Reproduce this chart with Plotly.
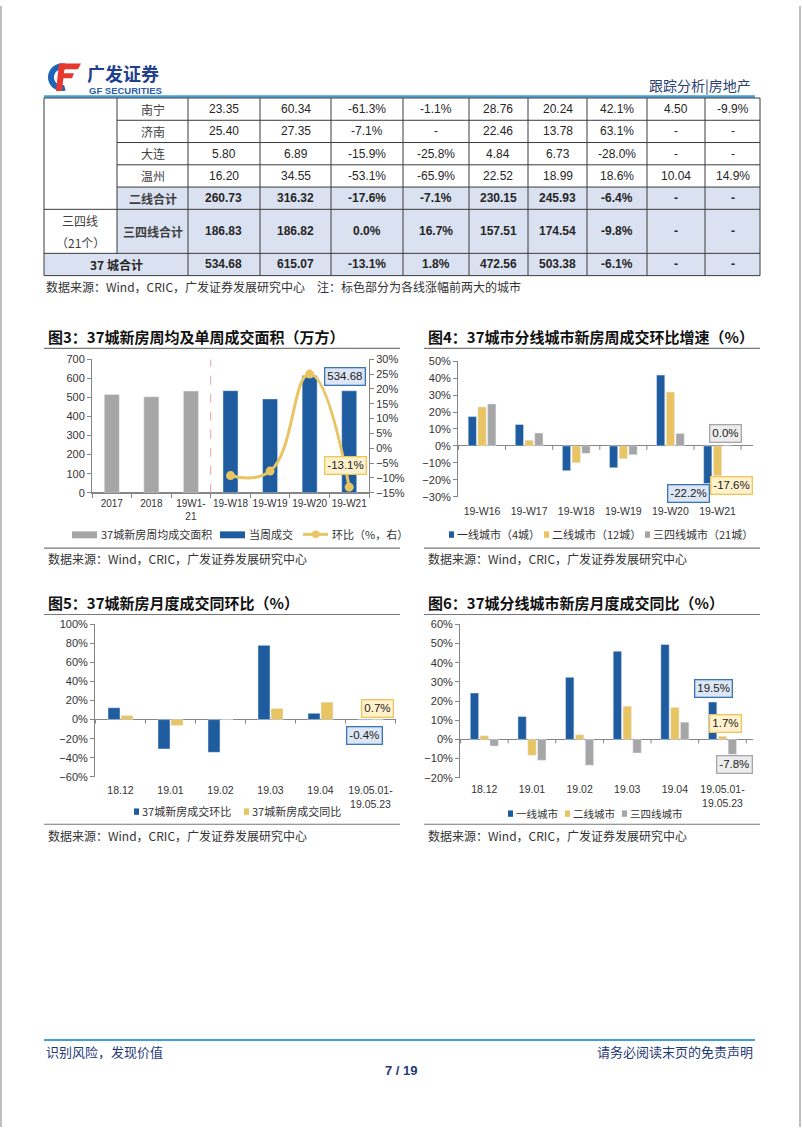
import numpy as np
import plotly.graph_objects as go

W, H = 802, 1133
def X(p): return p / W
def Y(p): return 1 - p / H

CJK = "Noto Sans CJK SC"
ARIAL = "Liberation Sans"
BLUE = "#1E5C9F"
GOLD = "#E9C462"
GRAY = "#A6A6A6"
AXC = "#868686"
TXT = "#262626"
NAVY = "#1F3A78"

# ---------------- table data ----------------
tbl_tier_labels = ["三四线", "（21个）"]
tbl_city = ["南宁", "济南", "大连", "温州", "二线合计", "三四线合计", "37 城合计"]
tbl_c1 = ["23.35", "25.40", "5.80", "16.20", "260.73", "186.83", "534.68"]
tbl_c2 = ["60.34", "27.35", "6.89", "34.55", "316.32", "186.82", "615.07"]
tbl_c3 = ["-61.3%", "-7.1%", "-15.9%", "-53.1%", "-17.6%", "0.0%", "-13.1%"]
tbl_c4 = ["-1.1%", "-", "-25.8%", "-65.9%", "-7.1%", "16.7%", "1.8%"]
tbl_c5 = ["28.76", "22.46", "4.84", "22.52", "230.15", "157.51", "472.56"]
tbl_c6 = ["20.24", "13.78", "6.73", "18.99", "245.93", "174.54", "503.38"]
tbl_c7 = ["42.1%", "63.1%", "-28.0%", "18.6%", "-6.4%", "-9.8%", "-6.1%"]
tbl_c8 = ["4.50", "-", "-", "10.04", "-", "-", "-"]
tbl_c9 = ["-9.9%", "-", "-", "14.9%", "-", "-", "-"]
tbl_bold = [False, False, False, False, True, True, True]

# ---------------- chart 3 data ----------------
c3_cats = ["2017", "2018", "19W1-<br>21", "19-W18", "19-W19", "19-W20", "19-W21"]
c3_avg = [515, 503, 533, None, None, None, None]
c3_week = [None, None, None, 535, 492, 615.07, 534.68]
c3_wow = [None, None, None, -9.2, -7.7, 25.0, -13.1]
c3_names = ["37城新房周均成交面积", "当周成交", "环比（%，右）"]

# ---------------- chart 4 data ----------------
c4_cats = ["19-W16", "19-W17", "19-W18", "19-W19", "19-W20", "19-W21"]
c4_t1 = [17.3, 12.7, -14.6, -12.9, 41.8, -22.2]
c4_t2 = [23.0, 3.4, -10.0, -7.5, 31.8, -17.6]
c4_t3 = [24.8, 7.6, -4.4, -5.2, 7.4, 0.0]
c4_names = ["一线城市（4城）", "二线城市（12城）", "三四线城市（21城）"]

# ---------------- chart 5 data ----------------
c5_cats = ["18.12", "19.01", "19.02", "19.03", "19.04", "19.05.01-<br>19.05.23"]
c5_mom = [12.4, -30.8, -34.4, 78.0, 6.6, -0.4]
c5_yoy = [4.2, -6.2, 0.0, 11.6, 18.3, 0.7]
c5_names = ["37城新房成交环比", "37城新房成交同比"]

# ---------------- chart 6 data ----------------
c6_cats = ["18.12", "19.01", "19.02", "19.03", "19.04", "19.05.01-<br>19.05.23"]
c6_t1 = [24.2, 11.9, 32.4, 46.0, 49.5, 19.5]
c6_t2 = [1.9, -8.3, 2.4, 17.3, 16.7, 1.7]
c6_t3 = [-3.5, -10.9, -13.5, -7.1, 9.0, -7.8]
c6_names = ["一线城市", "二线城市", "三四线城市"]

fig = go.Figure()
shapes, ann = [], []

def line(x0, y0, x1, y1, color, width=1, dash=None):
    shapes.append(dict(type="line", xref="paper", yref="paper", x0=X(x0), y0=Y(y0), x1=X(x1), y1=Y(y1),
                       line=dict(color=color, width=width, dash=dash)))

def rect(x0, y0, x1, y1, fill):
    shapes.append(dict(type="rect", xref="paper", yref="paper", x0=X(x0), y0=Y(y0), x1=X(x1), y1=Y(y1),
                       fillcolor=fill, line=dict(width=0), layer="below"))

def text(x, y, s, size, color=TXT, family=CJK, xanchor="left"):
    ann.append(dict(xref="paper", yref="paper", x=X(x), y=Y(y), text=s, showarrow=False,
                    xanchor=xanchor, yanchor="middle", font=dict(size=size, color=color, family=family)))

def poly(pts, fill):
    path = "M " + " L ".join(f"{X(a):.5f},{Y(b):.5f}" for a, b in pts) + " Z"
    shapes.append(dict(type="path", xref="paper", yref="paper", path=path, fillcolor=fill, line=dict(width=0)))

# ---------------- page frame / header / footer ----------------
line(1, 0, 1, H, "#7F7F7F", 1)
line(800, 0, 800, H, "#7F7F7F", 1)

# logo
ang = np.linspace(np.radians(70), np.radians(285), 30)
outer = [(62 + 14 * np.cos(a), 72 - 14 * np.sin(a)) for a in ang]
inner = [(62 + 8 * np.cos(a), 72 - 8 * np.sin(a)) for a in ang[::-1]]
poly(outer + inner, "#1E63B5")
poly([(61, 58), (81, 58), (78, 64), (59, 64)], "#E8372C")
poly([(60, 68), (74, 68), (72, 73), (59, 73)], "#E8372C")
poly([(59, 58), (65, 58), (62, 86), (56, 86)], "#E8372C")
text(85, 68, "<b>广发证券</b>", 18, "#233F8F")
text(87, 85.5, "<b>GF SECURITIES</b>", 9.5, "#2B5BAA", ARIAL)
text(753, 80, "跟踪分析|房地产", 14, "#2B3F70", CJK, "right")
line(44, 91.5, 755, 91.5, "#3E9FD9", 2.5)

line(44, 1045, 755, 1045, "#3E9FD9", 2)
text(44, 1057, "识别风险，发现价值", 13, NAVY)
text(755, 1057, "请务必阅读末页的免责声明", 13, NAVY, CJK, "right")
text(401, 1076, "<b>7 / 19</b>", 13, NAVY, ARIAL, "center")

# ---------------- table ----------------
COLX = [44, 117, 188, 260, 331, 403, 469, 528, 587, 647, 705, 760]
ROWY = [93, 115.5, 138, 160.5, 183, 205.5, 250, 272.5]
SHADE = "#DAE1F1"
rect(117, ROWY[4], 760, ROWY[5], SHADE)
rect(117, ROWY[5], 760, ROWY[6], SHADE)
rect(44, ROWY[6], 760, ROWY[7], SHADE)
TL = "#3A3A3A"
line(44, ROWY[0], 760, ROWY[0], TL)
for r in range(1, 5):
    line(117, ROWY[r], 760, ROWY[r], TL)
for r in range(5, 8):
    line(44, ROWY[r], 760, ROWY[r], TL)
line(44, ROWY[0], 44, ROWY[7], TL)
line(117, ROWY[0], 117, ROWY[6], TL)
for cx in COLX[2:]:
    line(cx, ROWY[0], cx, ROWY[7], TL)

cols = [tbl_c1, tbl_c2, tbl_c3, tbl_c4, tbl_c5, tbl_c6, tbl_c7, tbl_c8, tbl_c9]
for r in range(7):
    yc = (ROWY[r] + ROWY[r + 1]) / 2
    b = tbl_bold[r]
    if r == 6:
        text((COLX[0] + COLX[2]) / 2, yc, "<b>" + tbl_city[r] + "</b>", 12, TXT, CJK, "center")
    else:
        s = tbl_city[r]
        text((COLX[1] + COLX[2]) / 2, yc, ("<b>%s</b>" % s) if b else s, 12, "#404040", CJK, "center")
    for c, col in enumerate(cols):
        v = col[r]
        text((COLX[c + 2] + COLX[c + 3]) / 2, yc, ("<b>%s</b>" % v) if b else v, 12, TXT, ARIAL, "center")
text(80, 217, tbl_tier_labels[0], 12, "#404040", CJK, "center")
text(80, 239, tbl_tier_labels[1], 12, "#404040", CJK, "center")
text(44, 284, "数据来源：Wind，CRIC，广发证券发展研究中心　注：标色部分为各线涨幅前两大的城市", 12, "#333333")

# ---------------- section titles / rules ----------------
text(46, 334, "<b>图3：37城新房周均及单周成交面积（万方）</b>", 15, "#111111")
text(426, 334, "<b>图4：37城市分线城市新房周成交环比增速（%）</b>", 15, "#111111")
line(44, 346, 400, 346, "#777777", 1.2)
line(424, 346, 760, 346, "#777777", 1.2)
line(44, 548, 400, 548, "#777777", 1.2)
line(424, 548, 760, 548, "#777777", 1.2)
text(46, 558, "数据来源：Wind，CRIC，广发证券发展研究中心", 12, "#333333")
text(426, 558, "数据来源：Wind，CRIC，广发证券发展研究中心", 12, "#333333")

text(46, 603, "<b>图5：37城新房月度成交同环比（%）</b>", 15, "#111111")
text(426, 603, "<b>图6：37城分线城市新房月度成交同比（%）</b>", 15, "#111111")
line(44, 615, 400, 615, "#777777", 1.2)
line(424, 615, 760, 615, "#777777", 1.2)
line(44, 827, 400, 827, "#777777", 1.2)
line(424, 827, 760, 827, "#777777", 1.2)
text(46, 838, "数据来源：Wind，CRIC，广发证券发展研究中心", 12, "#333333")
text(426, 838, "数据来源：Wind，CRIC，广发证券发展研究中心", 12, "#333333")

# ---------------- legends (drawn as swatches + text) ----------------
LEGC = "#333333"
rect(72, 531, 97, 538, GRAY); text(99, 534, c3_names[0], 11, LEGC)
rect(220, 531, 245, 538, BLUE); text(247, 534, c3_names[1], 11, LEGC)
line(303, 534, 328, 534, GOLD, 3)
shapes.append(dict(type="circle", xref="paper", yref="paper", x0=X(312), x1=X(319.5), y0=Y(530.2), y1=Y(537.8),
                   fillcolor=GOLD, line=dict(width=0)))
text(330, 534, c3_names[2], 11, LEGC)

for xs, col, nm in [(449, BLUE, c4_names[0]), (544, GOLD, c4_names[1]), (645, GRAY, c4_names[2])]:
    rect(xs, 531, xs + 5, 537.5, col); text(xs + 6, 534, nm, 11, LEGC)
for xs, col, nm in [(134, BLUE, c5_names[0]), (244, GOLD, c5_names[1])]:
    rect(xs, 811, xs + 5, 817.5, col); text(xs + 6, 814, nm, 11, LEGC)
for xs, col, nm in [(508, BLUE, c6_names[0]), (565, GOLD, c6_names[1]), (622, GRAY, c6_names[2])]:
    rect(xs, 813, xs + 5, 819.5, col); text(xs + 6, 816, nm, 10.5, LEGC)

# ---------------- traces ----------------
fig.add_trace(go.Bar(x=c3_cats, y=c3_avg, name=c3_names[0], marker_color=GRAY,
                     width=0.38, offsetgroup="c3", xaxis="x", yaxis="y"))
fig.add_trace(go.Bar(x=c3_cats, y=c3_week, name=c3_names[1], marker_color=BLUE,
                     width=0.38, offsetgroup="c3", xaxis="x", yaxis="y"))
fig.add_trace(go.Scatter(x=c3_cats, y=c3_wow, name=c3_names[2], mode="lines+markers",
                         line=dict(color=GOLD, width=3, shape="spline", smoothing=1.3),
                         marker=dict(color=GOLD, size=9), xaxis="x", yaxis="y2"))
for nm, vals, col in zip(c4_names, [c4_t1, c4_t2, c4_t3], [BLUE, GOLD, GRAY]):
    fig.add_trace(go.Bar(x=c4_cats, y=vals, name=nm, marker_color=col, xaxis="x2", yaxis="y3"))
fig.add_trace(go.Bar(x=c5_cats, y=c5_mom, name=c5_names[0], marker_color=BLUE, width=0.24, offset=-0.25,
                     xaxis="x3", yaxis="y4"))
fig.add_trace(go.Bar(x=c5_cats, y=c5_yoy, name=c5_names[1], marker_color=GOLD, width=0.24, offset=0.01,
                     xaxis="x3", yaxis="y4"))
for nm, vals, col in zip(c6_names, [c6_t1, c6_t2, c6_t3], [BLUE, GOLD, GRAY]):
    fig.add_trace(go.Bar(x=c6_cats, y=vals, name=nm, marker_color=col, xaxis="x4", yaxis="y5"))

# ---------------- axes ----------------
tickfont = dict(family=ARIAL, size=11, color="#333333")
def xax(dom, anchor, line_on, standoff=0, fsize=10.5):
    return dict(domain=[X(dom[0]), X(dom[1])], anchor=anchor, type="category",
                tickfont=dict(family=ARIAL, size=fsize, color="#333333"),
                showline=line_on, linecolor=AXC, ticks="outside" if line_on else "", tickson="boundaries",
                ticklen=4, tickcolor=AXC, showgrid=False, zeroline=False, fixedrange=True, tickangle=0,
                ticklabelstandoff=standoff)
def yax(dom, anchor, rng, dtick, suffix="", side="left"):
    return dict(domain=[Y(dom[1]), Y(dom[0])], anchor=anchor, range=rng, dtick=dtick, ticksuffix=suffix,
                tickfont=tickfont, showline=True, linecolor=AXC, ticks="outside", ticklen=4, tickcolor=AXC,
                showgrid=False, zeroline=True, zerolinecolor=AXC, zerolinewidth=1, side=side)

C3 = (92, 369, 357, 492)
C4 = (458, 753, 359, 496)
C5 = (95, 396, 625, 779)
C6 = (460, 753, 625, 780)

layout = dict(
    xaxis=xax(C3[:2], "y", True, 1, 10),
    yaxis=yax(C3[2:], "x", [0, 700], 100),
    yaxis2=dict(yax(C3[2:], "x", [-15, 30], 5, "%", "right"), overlaying="y", zeroline=False),
    xaxis2=xax(C4[:2], "y3", False, 7),
    yaxis3=yax(C4[2:], "x2", [-30, 50], 10, "%"),
    xaxis3=xax(C5[:2], "y4", False, 6),
    yaxis4=yax(C5[2:], "x3", [-60, 100], 20, "%"),
    xaxis4=xax(C6[:2], "y5", False, 4),
    yaxis5=yax(C6[2:], "x4", [-20, 60], 10, "%"),
)
layout["yaxis2"].pop("domain", None)

for xa, ya, n in [("x2", "y3", len(c4_cats)), ("x3", "y4", len(c5_cats)), ("x4", "y5", len(c6_cats))]:
    for i in range(n + 1):
        shapes.append(dict(type="line", xref=xa, yref=ya, x0=i - 0.5, x1=i - 0.5, ysizemode="pixel",
                           yanchor=0, y0=0, y1=-4, line=dict(color=AXC, width=1)))
shapes.append(dict(type="line", xref="x", yref="y", x0=2.5, x1=2.5, y0=0, y1=700,
                   line=dict(color="#E4A3A3", width=1, dash="dash")))

def box(xa, ya, xv, yv, s, fill, border, xshift=0):
    ann.append(dict(xref=xa, yref=ya, x=xv, y=yv, text=s, showarrow=False, xshift=xshift,
                    font=dict(family=ARIAL, size=11.5, color="#222222"), bgcolor=fill, bordercolor=border,
                    borderwidth=1.3, borderpad=2))
BF, BB = "#DCE6F4", "#3A75B8"
YF, YB = "#FFF2CC", "#EFC45A"
GF, GB = "#EDEDED", "#A6A6A6"
box("x", "y", c3_cats[6], 612, "534.68", BF, BB, -4)
box("x", "y2", c3_cats[6], -5.7, "-13.1%", YF, YB, -4)
box("x2", "y3", c4_cats[5], 7.1, "0.0%", GF, GB, 8)
box("x2", "y3", c4_cats[5], -27.9, "-22.2%", BF, BB, -29)
box("x2", "y3", c4_cats[5], -23.3, "-17.6%", YF, YB, 14)
box("x3", "y4", c5_cats[5], 12, "0.7%", YF, YB, 7)
box("x3", "y4", c5_cats[5], -16.7, "-0.4%", BF, BB, -6)
box("x4", "y5", c6_cats[5], 26.7, "19.5%", BF, BB, -9)
box("x4", "y5", c6_cats[5], 8.1, "1.7%", YF, YB, 3)
box("x4", "y5", c6_cats[5], -13, "-7.8%", GF, GB, 12)

fig.update_layout(
    width=W, height=H, margin=dict(l=0, r=0, t=0, b=0), paper_bgcolor="white", plot_bgcolor="white",
    barmode="group", bargap=0.38, bargroupgap=0.15, showlegend=False,
    shapes=shapes, annotations=ann,
    **layout,
)
fig.write_html("out.html", config={"displayModeBar": False},
               post_script="document.body.style.margin='0px';document.body.style.padding='0px';")
